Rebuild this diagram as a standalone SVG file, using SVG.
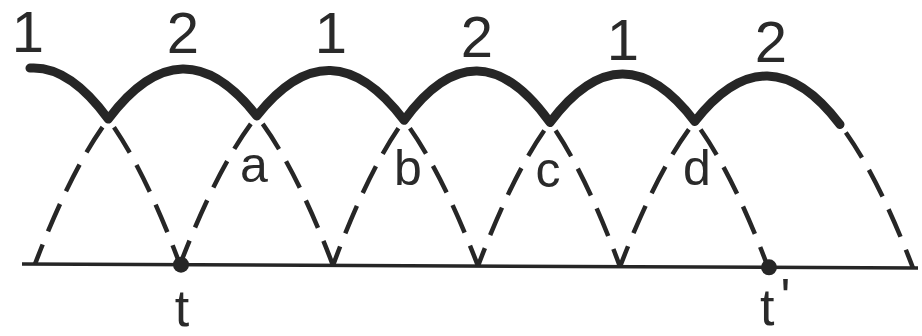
<svg xmlns="http://www.w3.org/2000/svg" width="922" height="336" viewBox="0 0 922 336">
  <style>
    .solid { fill: none; stroke: #262626; stroke-width: 9; stroke-linecap: round; stroke-linejoin: round; }
    .dash { fill: none; stroke: #262626; stroke-width: 4.5; stroke-dasharray: 30 14; stroke-dashoffset: 34; }
    .axis { fill: none; stroke: #262626; stroke-width: 3.5; }
    .dot { fill: #262626; }
    .num { font-family: "Liberation Sans", Arial, sans-serif; font-size: 58px; fill: #2a2a2a; text-anchor: middle; }
    .let { font-family: "Liberation Sans", Arial, sans-serif; font-size: 50px; fill: #2a2a2a; text-anchor: middle; }
    .tl { font-family: "Liberation Sans", Arial, sans-serif; font-size: 52px; fill: #2a2a2a; }
  </style>
  <rect width="922" height="336" fill="#ffffff"/>

  <g id="axis">
    <line class="axis" x1="22" y1="264" x2="918" y2="268"/>
  </g>

  <g id="connectors">
    <g id="dashed-arcs">
      <path class="dash" d="M108.3,119.1 Q144.2,168.3 180,264.7"/>
      <path class="dash" d="M108.3,119.1 Q71.7,167.9 35,264.1"/>
      <path class="dash" d="M256.8,116.0 Q294.9,165.1 333,265.4"/>
      <path class="dash" d="M256.8,116.0 Q218.4,164.5 180,264.7"/>
      <path class="dash" d="M404.1,120.3 Q441.0,169.2 478,266.0"/>
      <path class="dash" d="M404.1,120.3 Q368.5,168.9 333,265.4"/>
      <path class="dash" d="M550.0,122.5 Q585,171.4 620,266.7"/>
      <path class="dash" d="M550.0,122.5 Q514,170.5 478,266.0"/>
      <path class="dash" d="M694.8,121.5 Q731.4,169.9 768,267.3"/>
      <path class="dash" d="M694.8,121.5 Q657.4,169.2 620,266.7"/>
      <path class="dash" d="M840,124.5 Q876.5,172.5 913,268.0"/>
    </g>
    <g id="envelope">
      <path class="solid" d="M30,68.1 Q69.2,65.4 108.3,119.1 Q182.5,20.5 256.8,116.0 Q330.4,22.9 404.1,120.3 Q477.0,20.6 550.0,122.5 Q622.4,26.0 694.8,121.5 Q767.4,29.0 840,124.5"/>
    </g>
  </g>

  <g id="point-t">
    <circle class="dot" cx="181" cy="264.7" r="8"/>
    <text class="tl" x="182" y="326" text-anchor="middle">t</text>
  </g>
  <g id="point-t-prime">
    <circle class="dot" cx="769" cy="267.3" r="8"/>
    <text class="tl" x="760" y="325">t<tspan dx="6" dy="-10">'</tspan></text>
  </g>

  <g id="arch-labels">
    <text class="num" x="28" y="52">1</text>
    <text class="num" x="183" y="53">2</text>
    <text class="num" x="331" y="53">1</text>
    <text class="num" x="477" y="57">2</text>
    <text class="num" x="623" y="60">1</text>
    <text class="num" x="771" y="62">2</text>
  </g>

  <g id="intersection-labels">
    <text class="let" x="254" y="182">a</text>
    <text class="let" x="408" y="185">b</text>
    <text class="let" x="548" y="187">c</text>
    <text class="let" x="697" y="185">d</text>
  </g>
</svg>
